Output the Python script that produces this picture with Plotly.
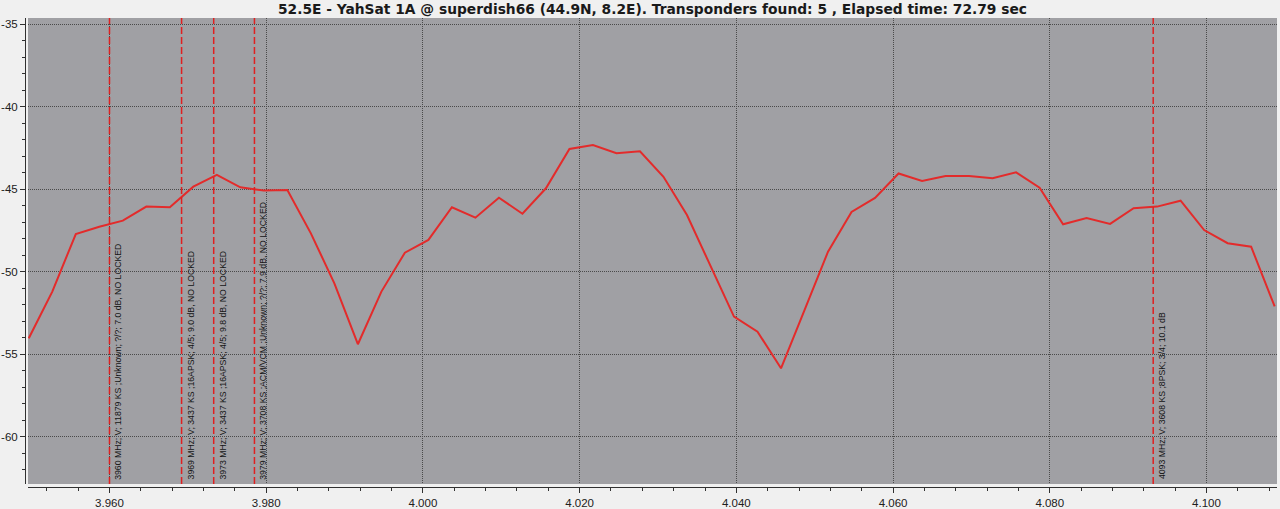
import plotly.graph_objects as go

# ---- data ----
freq_ghz = [3.9497, 3.9527, 3.9557, 3.9587, 3.9617, 3.9647, 3.9677, 3.9707, 3.9737, 3.9767,
            3.9797, 3.9827, 3.9857, 3.9887, 3.9917, 3.9947, 3.9977, 4.0007, 4.0037, 4.0067,
            4.0097, 4.0127, 4.0157, 4.0187, 4.0217, 4.0247, 4.0277, 4.0307, 4.0337, 4.0367,
            4.0397, 4.0427, 4.0457, 4.0487, 4.0517, 4.0547, 4.0577, 4.0607, 4.0637, 4.0667,
            4.0697, 4.0727, 4.0757, 4.0787, 4.0817, 4.0847, 4.0877, 4.0907, 4.0937, 4.0967,
            4.0997, 4.1027, 4.1057, 4.1087]
level_db = [-54.03, -51.20, -47.71, -47.27, -46.90, -46.05, -46.09, -44.84, -44.13, -44.88,
            -45.08, -45.04, -47.67, -50.70, -54.39, -51.20, -48.84, -48.07, -46.09, -46.72,
            -45.51, -46.48, -44.94, -42.56, -42.32, -42.82, -42.70, -44.24, -46.56, -49.69,
            -52.72, -53.63, -55.85, -52.32, -48.78, -46.37, -45.52, -44.04, -44.50, -44.19,
            -44.19, -44.33, -43.97, -44.90, -47.12, -46.74, -47.10, -46.15, -46.05, -45.69,
            -47.47, -48.27, -48.48, -52.10]

tp_freq = [3.9600, 3.9692, 3.9733, 3.9785, 4.0932]
tp_labels = [
    "3960 MHz; V; 11879 KS ;Unknown; ?/?; 7.0 dB, NO LOCKED",
    "3969 MHz; V; 3437 KS ;16APSK; 4/5; 9.0 dB, NO LOCKED",
    "3973 MHz; V; 3437 KS ;16APSK; 4/5; 9.8 dB, NO LOCKED",
    "3979 MHz; V; 3708 KS ;ACM/VCM ;Unknown; ?/?; 7.9 dB, NO LOCKED",
    "4093 MHz; V; 3608 KS ;8PSK; 3/4; 10.1 dB",
]

x_tickvals = [3.96, 3.98, 4.00, 4.02, 4.04, 4.06, 4.08, 4.10]
x_ticktext = ["3.960", "3.980", "4.000", "4.020", "4.040", "4.060", "4.080", "4.100"]
y_tickvals = [-60, -55, -50, -45, -40, -35]
y_ticktext = ["-60", "-55", "-50", "-45", "-40", "-35"]

title = "52.5E - YahSat 1A @ superdish66 (44.9N, 8.2E). Transponders found: 5 , Elapsed time: 72.79 sec"

# ---- figure ----
W, H = 1280, 509
ml, mr, mt, mb = 25, 3, 18, 22
pw, ph = W - ml - mr, H - mt - mb
gap = 3

fig = go.Figure()
fig.add_trace(go.Scatter(x=freq_ghz, y=level_db, mode="lines",
                         line=dict(color="#e32b2b", width=2), showlegend=False,
                         hoverinfo="x+y"))

for f, lab in zip(tp_freq, tp_labels):
    fig.add_shape(type="line", xref="x", yref="paper", x0=f, x1=f,
                  y0=gap / ph, y1=1,
                  line=dict(color="#e02020", width=1.5, dash="7px,3px"))
    fig.add_annotation(x=f, y=-62.7, xref="x", yref="y", text=lab,
                       textangle=-90, showarrow=False, xanchor="left",
                       yanchor="bottom", xshift=2,
                       font=dict(family="Liberation Sans", size=8.7, color="#141414"))

axis_font = dict(family="Liberation Sans", size=11.5, color="#202020")

fig.update_layout(
    width=W, height=H,
    margin=dict(l=ml, r=mr, t=mt, b=mb, autoexpand=False),
    paper_bgcolor="#f0f0f0",
    plot_bgcolor="#a0a0a4",
    title=dict(text=title, x=(ml + gap + (pw - gap) / 2) / W, xanchor="center",
               y=1 - 9 / H, yanchor="middle", xref="container", yref="container",
               font=dict(family="DejaVu Sans", size=13.8, color="#1a1a1a", weight="bold")),
    xaxis=dict(range=[3.9496, 4.1090], domain=[gap / pw, 1], anchor="free", position=0,
               automargin=False,
               tickvals=x_tickvals, ticktext=x_ticktext,
               showgrid=True, gridcolor="#4a4a4a", gridwidth=1, griddash="1px,1px",
               zeroline=False, showline=True, linecolor="#303030", linewidth=1,
               ticks="outside", ticklen=5, tickcolor="#303030",
               minor=dict(dtick=0.004, tick0=3.96, ticks="outside", ticklen=3,
                          tickcolor="#303030", showgrid=False),
               tickfont=axis_font),
    yaxis=dict(range=[-62.86, -34.62], domain=[gap / ph, 1], anchor="free", position=0,
               automargin=False,
               tickvals=y_tickvals, ticktext=y_ticktext,
               showgrid=True, gridcolor="#4a4a4a", gridwidth=1, griddash="1px,1px",
               zeroline=False, showline=True, linecolor="#303030", linewidth=1,
               ticks="outside", ticklen=5, tickcolor="#303030",
               minor=dict(dtick=1, tick0=-35, ticks="outside", ticklen=3,
                          tickcolor="#303030", showgrid=False),
               tickfont=axis_font, ticklabelstandoff=0),
)

fig.write_html(
    "out.html",
    config={"displayModeBar": False},
    post_script="document.body.style.margin='0';document.body.style.padding='0';"
                "document.documentElement.style.margin='0';",
)
